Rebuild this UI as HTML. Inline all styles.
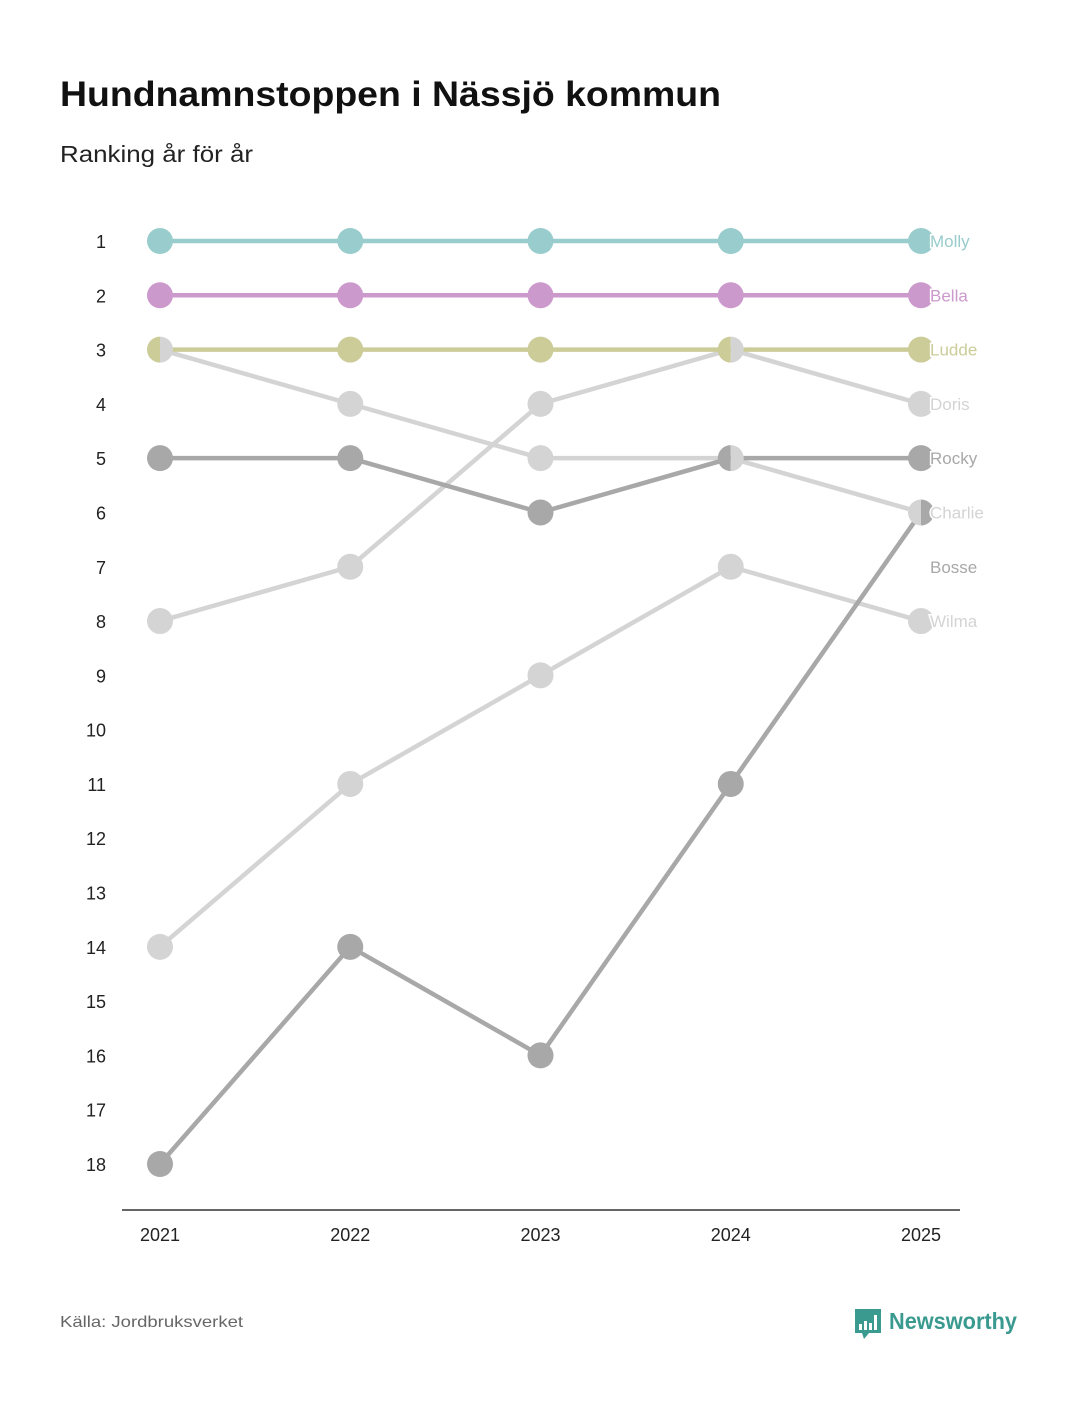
<!DOCTYPE html>
<html><head><meta charset="utf-8"><style>
body{margin:0;background:#fff;font-family:"Liberation Sans",sans-serif;}
#wrap{position:relative;width:1080px;height:1400px;}
</style></head><body>
<div id="wrap">
<svg id="chart" width="1080" height="1400">
<text x="60" y="106" font-size="35" font-weight="bold" fill="#111" textLength="661" lengthAdjust="spacingAndGlyphs">Hundnamnstoppen i Nässjö kommun</text>
<text x="60" y="162" font-size="23" fill="#222" textLength="193" lengthAdjust="spacingAndGlyphs">Ranking år för år</text>
<line x1="122" y1="1210" x2="960" y2="1210" stroke="#333" stroke-width="1.5"/>
<g id="yt"></g>
<g id="xt"></g>
<g id="lines"></g>
<g id="dots"></g>
<g id="labels"></g>
<text x="60" y="1327" font-size="16" fill="#666" textLength="183" lengthAdjust="spacingAndGlyphs">Källa: Jordbruksverket</text>
<g>
<path d="M855 1309 h26 v24 h-12 l-5 6 l-2 -6 h-7 z" fill="#3a9a8f"/>
<rect x="859" y="1324" width="3" height="6" fill="#fff"/><rect x="864" y="1321" width="3" height="9" fill="#fff"/><rect x="869" y="1323" width="3" height="7" fill="#fff"/><rect x="874" y="1315" width="3" height="15" fill="#fff"/>
<text x="889" y="1329" font-size="23" font-weight="bold" fill="#3a9a8f" textLength="128" lengthAdjust="spacingAndGlyphs">Newsworthy</text>
</g>
</svg>
</div>
<script>
const years=[2021,2022,2023,2024,2025];
const names=["Molly","Bella","Ludde","Doris","Rocky","Charlie","Bosse","Wilma"];
const colors=["#99cccc","#cc99cc","#cccc99","#d4d4d4","#a8a8a8","#d4d4d4","#a8a8a8","#d4d4d4"];
const molly=[1,1,1,1,1];
const bella=[2,2,2,2,2];
const ludde=[3,3,3,3,3];
const doris=[8,7,4,3,4];
const rocky=[5,5,6,5,5];
const charlie=[3,4,5,5,6];
const bosse=[18,14,16,11,6];
const wilma=[14,11,9,7,8];
const labelRanks=[1,2,3,4,5,6,7,8];
const series=[molly,bella,ludde,doris,rocky,charlie,bosse,wilma];
const rankTicks=[1,2,3,4,5,6,7,8,9,10,11,12,13,14,15,16,17,18];
const NS="http://www.w3.org/2000/svg";
const xs=i=>160+i*(921-160)/(years.length-1);
const ys=r=>241+(r-1)*(1164-241)/17;
function mk(t,a,p){const e=document.createElementNS(NS,t);for(const k in a)e.setAttribute(k,a[k]);p.appendChild(e);return e;}
const yt=document.getElementById('yt'),xt=document.getElementById('xt'),L=document.getElementById('lines'),D=document.getElementById('dots'),LB=document.getElementById('labels');
rankTicks.forEach(r=>{const t=mk('text',{x:106,y:ys(r)+7,'text-anchor':'end','font-size':18,fill:'#222'},yt);t.textContent=r;

});
years.forEach((y,i)=>{const t=mk('text',{x:xs(i),y:1241,'text-anchor':'middle','font-size':18,fill:'#222'},xt);t.textContent=y;

});
const order=[3,5,7,6,4,2,1,0];
order.forEach(s=>{const pts=series[s].map((r,i)=>xs(i)+','+ys(r)).join(' ');
const pl=mk('polyline',{points:pts,fill:'none',stroke:colors[s],'stroke-width':4.5},L);

});
years.forEach((y,i)=>{
  const groups={};
  series.forEach((v,s)=>{(groups[v[i]]=groups[v[i]]||[]).push(s);});
  for(const r in groups){const g=groups[r];const cx=xs(i),cy=ys(+r),R=13;
    if(g.length===1){const c=mk('circle',{cx:cx,cy:cy,r:R,fill:colors[g[0]]},D);
      
      }
    else{const a=mk('path',{d:`M${cx} ${cy-R} A${R} ${R} 0 0 0 ${cx} ${cy+R} Z`,fill:colors[g[0]]},D);
      
      
      const b=mk('path',{d:`M${cx} ${cy-R} A${R} ${R} 0 0 1 ${cx} ${cy+R} Z`,fill:colors[g[1]]},D);
      
      }
  }
});
names.forEach((n,s)=>{const t=mk('text',{x:930,y:ys(labelRanks[s])+6,'font-size':17,fill:colors[s],stroke:'#fff','stroke-width':3,'paint-order':'stroke'},LB);t.textContent=n;

});
</script>
</body></html>
